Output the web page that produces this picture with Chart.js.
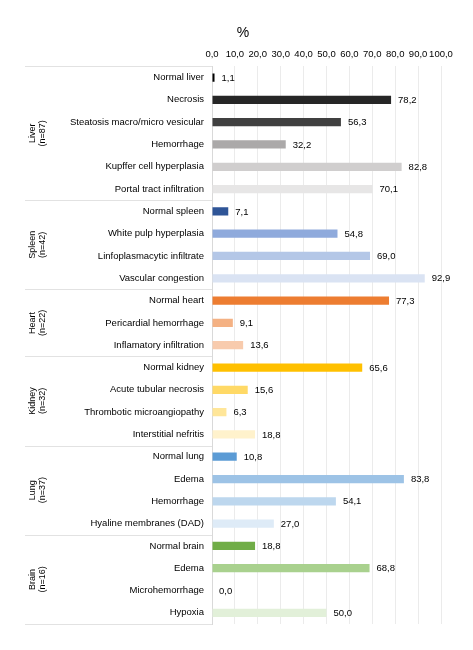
<!DOCTYPE html>
<html>
<head>
<meta charset="utf-8">
<script src="https://cdn.jsdelivr.net/npm/chart.js@4/dist/chart.umd.min.js"></script>
<style>
  html, body { margin: 0; padding: 0; background: #fff; }
  #wrap { width: 473px; height: 650px; position: relative; }
</style>
</head>
<body>
<div id="wrap"><canvas id="c"></canvas></div>
<script>
const categories = [
  "Normal liver", "Necrosis", "Steatosis macro/micro vesicular", "Hemorrhage", "Kupffer cell hyperplasia", "Portal tract infiltration",
  "Normal spleen", "White pulp hyperplasia", "Linfoplasmacytic infiltrate", "Vascular congestion",
  "Normal heart", "Pericardial hemorrhage", "Inflamatory infiltration",
  "Normal kidney", "Acute tubular necrosis", "Thrombotic microangiopathy", "Interstitial nefritis",
  "Normal lung", "Edema", "Hemorrhage", "Hyaline membranes (DAD)",
  "Normal brain", "Edema", "Microhemorrhage", "Hypoxia"
];
const values = [
  1.1, 78.2, 56.3, 32.2, 82.8, 70.1,
  7.1, 54.8, 69.0, 92.9,
  77.3, 9.1, 13.6,
  65.6, 15.6, 6.3, 18.8,
  10.8, 83.8, 54.1, 27.0,
  18.8, 68.8, 0.0, 50.0
];
const barColors = [
  "#000000", "#262626", "#404040", "#aba9a9", "#d0cece", "#e7e6e6",
  "#2f5597", "#8faadc", "#b4c7e7", "#dae3f3",
  "#ed7d31", "#f4b183", "#f8cbad",
  "#ffc000", "#ffd966", "#ffe699", "#fff2cc",
  "#5b9bd5", "#9dc3e6", "#bdd7ee", "#deebf7",
  "#70ad47", "#a9d18e", "#c5e0b4", "#e2f0d9"
];
const groupNames = ["Liver", "Spleen", "Heart", "Kidney", "Lung", "Brain"];
const groupN = ["(n=87)", "(n=42)", "(n=22)", "(n=32)", "(n=37)", "(n=16)"];
const groupSizes = [6, 4, 3, 4, 4, 4];
const xTicks = [0, 10, 20, 30, 40, 50, 60, 70, 80, 90, 100];

const FONT = "'Liberation Sans', Arial, Helvetica, sans-serif";
const fmt = v => v.toFixed(1).replace('.', ',');

const labelsPlugin = {
  id: 'valueLabels',
  afterDatasetsDraw(chart) {
    const ctx = chart.ctx;
    const meta = chart.getDatasetMeta(0);
    ctx.save();
    ctx.font = "9.5px " + FONT;
    ctx.fillStyle = "#000";
    ctx.textAlign = "left";
    ctx.textBaseline = "middle";
    meta.data.forEach((bar, i) => {
      ctx.fillText(fmt(values[i]), bar.x + 7, bar.y + 0.5);
    });
    ctx.restore();
  }
};

const groupPlugin = {
  id: 'groups',
  afterDraw(chart) {
    const ctx = chart.ctx;
    const y = chart.scales.y;
    const area = chart.chartArea;
    const lineX0 = 25;
    ctx.save();
    ctx.strokeStyle = "#e2e2e2";
    ctx.lineWidth = 1;
    let idx = 0;
    const bounds = [area.top];
    groupSizes.forEach((n, g) => {
      const last = idx + n - 1;
      let bottom;
      if (g === groupSizes.length - 1) bottom = area.bottom;
      else bottom = (y.getPixelForValue(last) + y.getPixelForValue(last + 1)) / 2;
      bounds.push(bottom);
      idx += n;
    });
    bounds.forEach(b => {
      const yy = Math.round(b) + 0.5;
      ctx.beginPath();
      ctx.moveTo(lineX0, yy);
      ctx.lineTo(area.left, yy);
      ctx.stroke();
    });
    ctx.fillStyle = "#000";
    ctx.font = "9px " + FONT;
    ctx.textAlign = "center";
    ctx.textBaseline = "middle";
    groupNames.forEach((name, g) => {
      const cy = (bounds[g] + bounds[g + 1]) / 2;
      ctx.save();
      ctx.translate(37.5, cy);
      ctx.rotate(-Math.PI / 2);
      ctx.fillText(name, 0, -5);
      ctx.fillText(groupN[g], 0, 5.5);
      ctx.restore();
    });
    // axis title "%"
    ctx.font = "14px " + FONT;
    ctx.textAlign = "center";
    ctx.textBaseline = "middle";
    ctx.fillText("%", area.left + 31, 33);
    ctx.restore();
  }
};

new Chart(document.getElementById('c'), {
  type: 'bar',
  data: {
    labels: categories,
    datasets: [{
      data: values,
      backgroundColor: barColors,
      borderWidth: 0,
      barPercentage: 0.37,
      categoryPercentage: 1.0
    }]
  },
  options: {
    indexAxis: 'y',
    responsive: true,
    maintainAspectRatio: false,
    animation: false,
    layout: { padding: { top: 43, right: 32, bottom: 26, left: 0 } },
    plugins: { legend: { display: false }, tooltip: { enabled: false } },
    scales: {
      x: {
        position: 'top',
        min: 0,
        max: 100,
        afterBuildTicks(scale) { scale.ticks = xTicks.map(v => ({ value: v })); },
        ticks: {
          callback: v => fmt(v),
          font: { size: 9.5, family: FONT },
          color: "#000",
          padding: 6,
          maxRotation: 0,
          autoSkip: false
        },
        grid: { color: "#ebebeb", drawTicks: false, lineWidth: 1 },
        border: { display: false }
      },
      y: {
        afterFit(scale) { scale.width = 212; },
        ticks: {
          font: { size: 9.5, family: FONT },
          color: "#000",
          padding: 8,
          autoSkip: false
        },
        grid: { display: false, drawTicks: false },
        border: { display: true, color: "#d9d9d9" }
      }
    }
  },
  plugins: [labelsPlugin, groupPlugin]
});
</script>
</body>
</html>
